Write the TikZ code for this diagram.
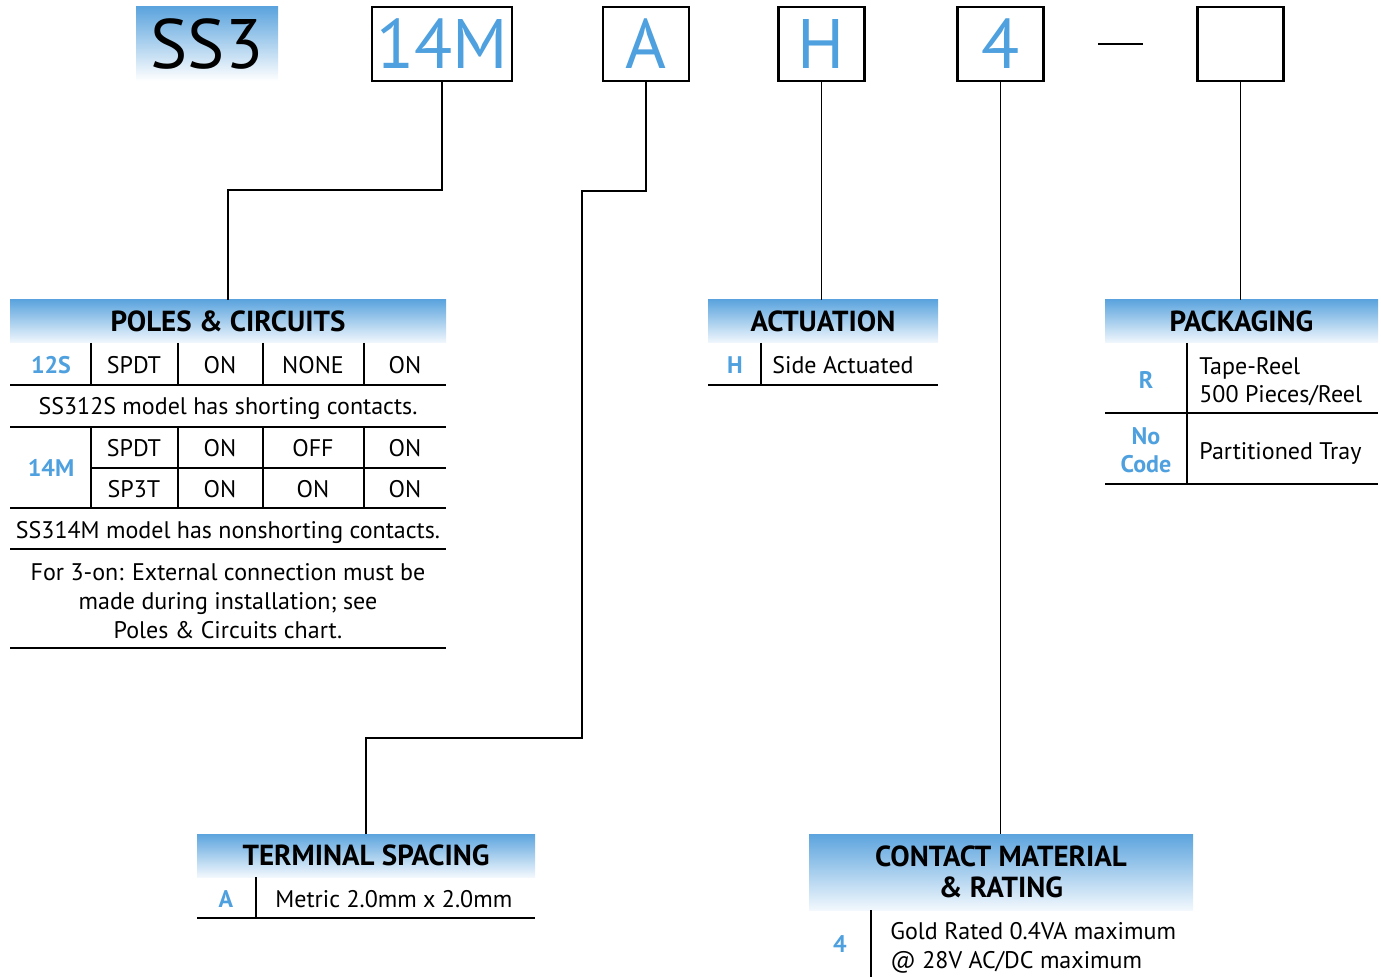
\documentclass[tikz,border=0pt]{standalone}
\usepackage{fontspec}
\setmainfont{PT Sans}
\usetikzlibrary{positioning}
\definecolor{codeblue}{RGB}{79,160,222}
\definecolor{headtop}{RGB}{92,164,222}
\definecolor{headbot}{RGB}{242,248,253}
\tikzset{
  codebox/.style={draw,line width=1.2pt,minimum height=37pt,inner sep=0pt,text=codeblue,font=\fontsize{35}{35}\selectfont},
  headbar/.style={top color=headtop,bottom color=headbot,minimum height=21.5pt,inner sep=0pt,font=\fontsize{14.5}{15.5}\selectfont\bfseries},
  cell/.style={inner sep=0pt,text height=8.6pt,text depth=0pt,font=\fontsize{12}{14.5}\selectfont},
  key/.style={cell,text=codeblue,font=\fontsize{12}{14.5}\selectfont\bfseries},
  rule/.style={line width=0.7pt},
  link/.style={line width=0.6pt},
}
\begin{document}
\begin{tikzpicture}[x=0.5pt,y=-0.5pt]
	\useasboundingbox (0,0) rectangle (1381,977);
	% Place nodes
	\node [top color=headtop,bottom color=white,minimum width=71pt,minimum height=37pt,inner sep=0pt,font=\fontsize{35}{35}\selectfont] (ss3) at (207,44) {SS3};
	\node [codebox,minimum width=70pt] (b14m) at (442,44) {14M};
	\node [codebox,minimum width=43pt] (ba) at (646,44) {A};
	\node [codebox,minimum width=43pt] (bh) at (821.5,44) {H};
	\node [codebox,minimum width=43pt] (b4) at (1000.5,44) {4};
	\node [codebox,minimum width=43pt] (bpk) at (1240.5,44) {};
	\draw [line width=1pt] (1098,44) -- (1143,44);

	\node [headbar,minimum width=218pt] (poles) at (228,321.5) {POLES \& CIRCUITS};
	\node [headbar,minimum width=115pt] (act) at (823,321.5) {ACTUATION};
	\node [headbar,minimum width=136.5pt] (pack) at (1241.5,321.5) {PACKAGING};
	\node [headbar,minimum width=169pt] (term) at (366,855.5) {TERMINAL SPACING};
	\node [headbar,minimum width=192pt,minimum height=38pt,align=center] (cont) at (1001,872) {CONTACT MATERIAL\\\& RATING};

	% Connectors
	\draw [link] (b14m.south) |- (228,190) -- (poles.north);
	\draw [link] (ba.south) |- (582,191) -- (582,738) -| (term.north);
	\draw [link] (bh.south) -- (bh.south |- act.north);
	\draw [link] (b4.south) -- (b4.south |- cont.north);
	\draw [link] (bpk.south) -- (bpk.south |- pack.north);

	% Poles & circuits
	\node [key] (p12s) at (51,365) {12S};
	\node [cell] (p1a) at (134,365) {SPDT};
	\node [cell] (p1b) at (220,365) {ON};
	\node [cell] (p1c) at (313,365) {NONE};
	\node [cell] (p1d) at (405,365) {ON};
	\node [cell] (pnote1) at (228,406) {SS312S model has shorting contacts.};
	\node [key] (p14m) at (51,468) {14M};
	\node [cell] (p2a) at (134,448) {SPDT};
	\node [cell] (p2b) at (220,448) {ON};
	\node [cell] (p2c) at (313,448) {OFF};
	\node [cell] (p2d) at (405,448) {ON};
	\node [cell] (p3a) at (134,489) {SP3T};
	\node [cell] (p3b) at (220,489) {ON};
	\node [cell] (p3c) at (313,489) {ON};
	\node [cell] (p3d) at (405,489) {ON};
	\node [cell] (pnote2) at (228,530) {SS314M model has nonshorting contacts.};
	\node [inner sep=0pt,align=center,font=\fontsize{12}{14.5}\selectfont] (pnote3) at (228,601) {For 3-on: External connection must be\\made during installation; see\\Poles \& Circuits chart.};
	\draw [rule] (10,385) -- (446,385);
	\draw [rule] (10,427) -- (446,427);
	\draw [rule] (91,468) -- (446,468);
	\draw [rule] (10,508) -- (446,508);
	\draw [rule] (10,549) -- (446,549);
	\draw [rule] (10,648) -- (446,648);
	\foreach \x in {91,178,263,364} {
		\draw [rule] (\x,343) -- (\x,385);
		\draw [rule] (\x,427) -- (\x,508);
	}

	% Actuation
	\node [key] (aH) at (735,365) {H};
	\node [cell,anchor=west] (aside) at (772,365) {Side Actuated};
	\draw [rule] (761,343) -- (761,385);
	\draw [rule] (708,385) -- (938,385);

	% Packaging
	\node [key] (kR) at (1146,380) {R};
	\node [cell,anchor=west] (kreel1) at (1199,366) {Tape-Reel};
	\node [cell,anchor=west] (kreel2) at (1199,394) {500 Pieces/Reel};
	\node [key] (kno) at (1146,436) {No};
	\node [key] (kcode) at (1146,464) {Code};
	\node [cell,anchor=west] (ktray) at (1199,451) {Partitioned Tray};
	\draw [rule] (1187,343) -- (1187,484);
	\draw [rule] (1105,413) -- (1378,413);
	\draw [rule] (1105,484) -- (1378,484);

	% Terminal spacing
	\node [key] (tA) at (226,899) {A};
	\node [cell,anchor=west] (tmetric) at (275,899) {Metric 2.0mm x 2.0mm};
	\draw [rule] (256,877) -- (256,918);
	\draw [rule] (197,918) -- (535,918);

	% Contact material
	\node [key] (c4) at (840,944) {4};
	\node [cell,anchor=west] (cgold1) at (890,931) {Gold Rated 0.4VA maximum};
	\node [cell,anchor=west] (cgold2) at (890,960) {@ 28V AC/DC maximum};
	\draw [rule] (871,910) -- (871,977);
\end{tikzpicture}
\end{document}
